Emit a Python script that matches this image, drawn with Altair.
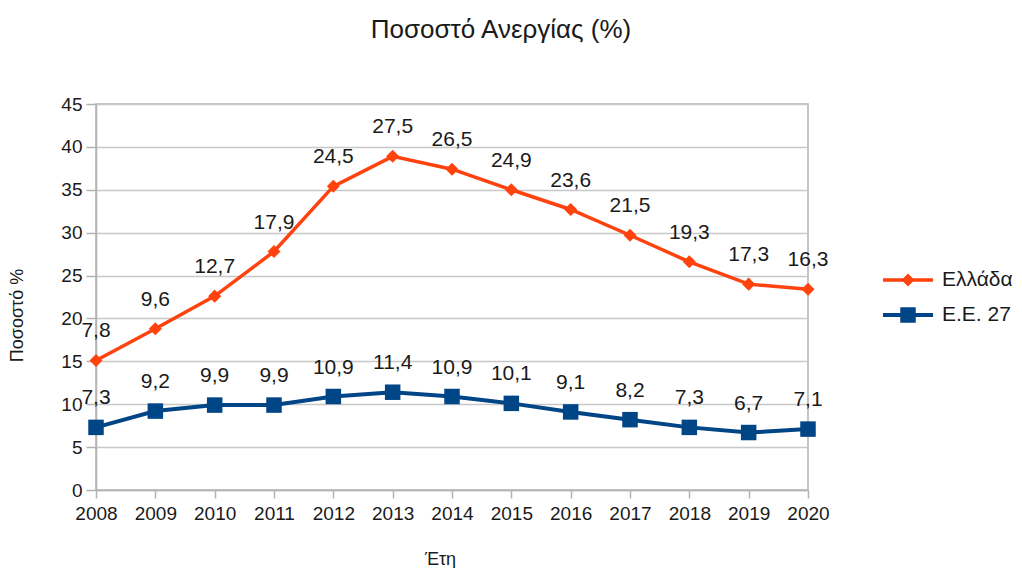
import altair as alt
import pandas as pd

years = list(range(2008, 2021))
eu27 = [7.3, 9.2, 9.9, 9.9, 10.9, 11.4, 10.9, 10.1, 9.1, 8.2, 7.3, 6.7, 7.1]
greece = [7.8, 9.6, 12.7, 17.9, 24.5, 27.5, 26.5, 24.9, 23.6, 21.5, 19.3, 17.3, 16.3]
series = ["Ελλάδα", "Ε.Ε. 27"]
colors = ["#ff420e", "#004586"]
y_ticks = [0, 5, 10, 15, 20, 25, 30, 35, 40, 45]

rows = []
for yr, v in zip(years, eu27):
    rows.append({"year": yr, "series": series[1], "value": v, "ord": 0})
for yr, v in zip(years, greece):
    rows.append({"year": yr, "series": series[0], "value": v, "ord": 1})
df = pd.DataFrame(rows)
df["label"] = df["value"].map(lambda v: f"{v:.1f}".replace(".", ","))

FONT = "Liberation Sans"
TXT = "#1a1a1a"
AX = dict(domainColor="#b3b3b3", tickColor="#b3b3b3", gridColor="#c8c8c8", gridWidth=1.5,
          domainWidth=1.5, tickWidth=1.5, labelFont=FONT, titleFont=FONT, labelFontSize=19,
          labelColor=TXT, titleColor=TXT, titleFontWeight="normal")

base = alt.Chart(df).transform_stack(
    stack="value", groupby=["year"], as_=["y0", "y1"], sort=[alt.SortField("ord")]
)

x_enc = alt.X(
    "year:Q",
    scale=alt.Scale(domain=[years[0], years[-1]], nice=False, zero=False),
    axis=alt.Axis(
        values=years, format="d", title="Έτη", grid=False, labelFlush=False,
        tickSize=8, labelPadding=6, titleX=344, titleY=69,
        titleBaseline="middle", titleFontSize=18, **AX,
    ),
)
y_enc = alt.Y(
    "y1:Q",
    scale=alt.Scale(domain=[0, 45], nice=False),
    axis=alt.Axis(
        values=y_ticks, title="Ποσοστό %", tickSize=10, labelPadding=4,
        titleX=-79, titleY=211, titleBaseline="middle", titleAngle=-90,
        titleFontSize=18, **AX,
    ),
)

gr_base = base.transform_filter(alt.datum.series == series[0])
eu_base = base.transform_filter(alt.datum.series == series[1])

gr_line = gr_base.mark_line(strokeWidth=3.5, color=colors[0]).encode(x=x_enc, y=y_enc)
eu_line = eu_base.mark_line(strokeWidth=4, color=colors[1]).encode(x=x_enc, y=y_enc)
gr_pts = gr_base.mark_point(shape="diamond", filled=True, size=170, opacity=1, color=colors[0]).encode(x=x_enc, y=y_enc)
eu_pts = eu_base.mark_point(shape="square", filled=True, size=240, opacity=1, color=colors[1]).encode(x=x_enc, y=y_enc)
labels = base.mark_text(font=FONT, fontSize=21, color=TXT, dy=-29, baseline="middle").encode(
    x=x_enc, y=y_enc, text="label:N"
)

one = pd.DataFrame({"k": [0]})
leg = []
for i, (name, col, shp, sz, sw) in enumerate(zip(series, colors, ["diamond", "square"], [170, 240], [3.5, 4])):
    yy = 176 + 35 * i
    c = alt.Chart(one)
    leg.append(c.mark_rule(color=col, strokeWidth=sw).encode(x=alt.value(787), x2=alt.value(837), y=alt.value(yy)))
    leg.append(c.mark_point(shape=shp, filled=True, size=sz, opacity=1, color=col).encode(x=alt.value(812), y=alt.value(yy)))
    leg.append(c.mark_text(align="left", baseline="middle", font=FONT, fontSize=21, color=TXT).encode(
        x=alt.value(846), y=alt.value(yy), text=alt.value(name)))

chart = alt.layer(eu_line, gr_line, eu_pts, gr_pts, labels, *leg).properties(
    width=712, height=386,
    autosize=alt.AutoSizeParams(type="none"),
    padding={"left": 88, "top": 96, "right": 206, "bottom": 78},
    background="white",
    title=alt.Title("Ποσοστό Ανεργίας (%)", fontSize=26, font=FONT, fontWeight="normal",
                    color=TXT, dx=49, offset=26, baseline="bottom", anchor="middle"),
).configure_view(stroke="#b3b3b3", strokeWidth=1.5)

chart.save("out.html", embed_options={"renderer": "svg", "actions": False})
